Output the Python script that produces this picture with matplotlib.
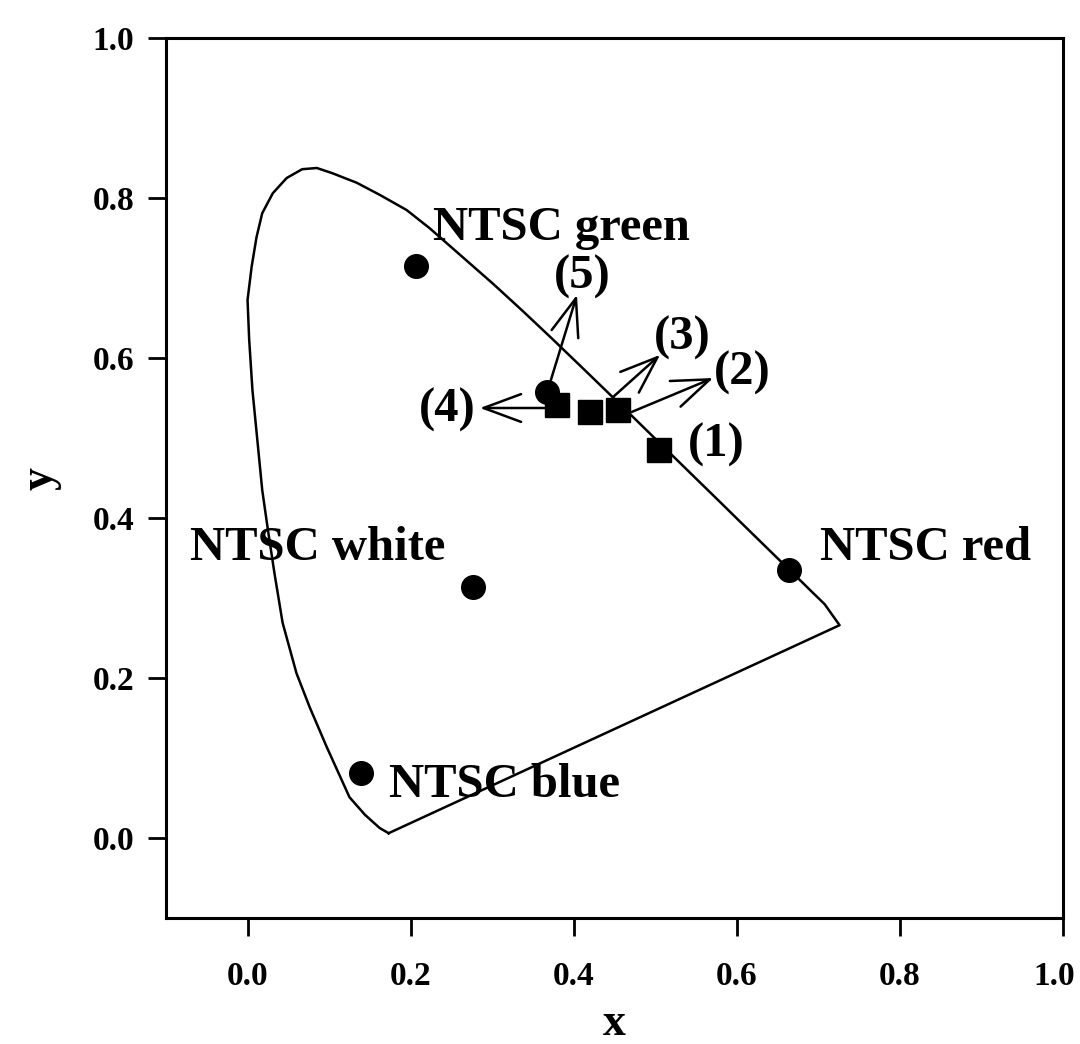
import numpy as np
from matplotlib import pyplot as plt
from matplotlib.transforms import ScaledTranslation

# spectral locus: blue/green part, red part from CIE 1931 (545-630 nm)
locus_x = [0.173, 0.162, 0.144, 0.125, 0.117, 0.097, 0.076, 0.060, 0.043, 0.033,
           0.025, 0.018, 0.012, 0.006, 0.002, 0.000, 0.005, 0.011, 0.018, 0.031,
           0.048, 0.067, 0.085, 0.104, 0.134, 0.162, 0.195, 0.223,
           0.2658, 0.3016, 0.3373, 0.3731, 0.4087, 0.4441, 0.4788, 0.5125, 0.5448, 0.5752,
           0.6029, 0.6270, 0.6482, 0.6658, 0.6801, 0.6915, 0.7006, 0.7079, 0.726]
locus_y = [0.006, 0.0125, 0.029, 0.051, 0.069, 0.114, 0.164, 0.206, 0.269, 0.331,
           0.385, 0.435, 0.4975, 0.560, 0.623, 0.6725, 0.714, 0.751, 0.781, 0.806,
           0.825, 0.836, 0.8375, 0.831, 0.819, 0.804, 0.785, 0.7625,
           0.7243, 0.6923, 0.6589, 0.6245, 0.5896, 0.5547, 0.5202, 0.4866, 0.4544, 0.4242,
           0.3965, 0.3725, 0.3514, 0.3340, 0.3197, 0.3083, 0.2993, 0.2920, 0.266]

# NTSC primaries and white point
ntsc_names = ['NTSC green', 'NTSC red', 'NTSC blue', 'NTSC white']
ntsc_x = [0.207, 0.664, 0.139, 0.277]
ntsc_y = [0.715, 0.335, 0.081, 0.314]

# samples (1)-(4) as squares, (5) as circle
sample_labels = ['(1)', '(2)', '(3)', '(4)', '(5)']
sample_x = [0.504, 0.454, 0.420, 0.380, 0.367]
sample_y = [0.485, 0.535, 0.5325, 0.541, 0.5575]

font = 'Liberation Serif'
plt.rcParams['font.family'] = font
plt.rcParams['font.weight'] = 'bold'

fig = plt.figure(figsize=(10.8, 10.44), dpi=100)
ax = fig.add_axes([166 / 1080, 1 - 918 / 1044, 897 / 1080, 880 / 1044])

# spectral locus, closed by the purple line
ax.plot(locus_x + locus_x[:1], locus_y + locus_y[:1], color='black', lw=1.8,
        solid_joinstyle='round')

ax.plot(ntsc_x, ntsc_y, 'o', color='black', ms=17)
ax.plot(sample_x[:4], sample_y[:4], 's', color='black', ms=17)
ax.plot(sample_x[4:], sample_y[4:], 'o', color='black', ms=17)

# NTSC labels
txt = dict(fontsize=35, fontweight='bold', ha='center', va='center')
ax.text(0.385, 0.762, ntsc_names[0], **txt)
ax.text(0.831, 0.362, ntsc_names[1], **txt)
ax.text(0.315, 0.066, ntsc_names[2], **txt)
ax.text(0.086, 0.362, ntsc_names[3], **txt)

# sample labels and arrows
label_pos = [(0.575, 0.491), (0.607, 0.581), (0.533, 0.625), (0.245, 0.535), (0.411, 0.701)]
arrow_start = [None, (0.471, 0.5325), (0.448, 0.551), (0.371, 0.5375), (0.372, 0.5725)]
arrow_end = [None, (0.571, 0.575), (0.506, 0.604), (0.285, 0.5375), (0.404, 0.679)]
for lab, pos, a0, a1 in zip(sample_labels, label_pos, arrow_start, arrow_end):
    ax.text(pos[0], pos[1], lab, **txt)
    if a0 is not None:
        ax.annotate('', xy=a1, xytext=a0,
                    arrowprops=dict(arrowstyle='->,head_length=1.35,head_width=0.5',
                                    color='black', lw=1.8, shrinkA=0, shrinkB=0,
                                    mutation_scale=20))

ax.set_xlim(-0.1, 1.0)
ax.set_ylim(-0.1, 1.0)
ax.set_xticks([0.0, 0.2, 0.4, 0.6, 0.8, 1.0])
ax.set_yticks([0.0, 0.2, 0.4, 0.6, 0.8, 1.0])
ax.set_xticklabels(['0.0', '0.2', '0.4', '0.6', '0.8', '1.0'])
ax.set_yticklabels(['0.0', '0.2', '0.4', '0.6', '0.8', '1.0'])
ax.tick_params(axis='both', direction='out', length=13, width=2, labelsize=24)
ax.tick_params(axis='x', pad=18)
ax.tick_params(axis='y', pad=10)
for lbl in ax.get_xticklabels() + ax.get_yticklabels():
    lbl.set_fontweight('bold')
# keep the last x tick label inside the figure
last = ax.get_xticklabels()[-1]
last.set_transform(last.get_transform() + ScaledTranslation(-6 / 72, 0, fig.dpi_scale_trans))
for sp in ax.spines.values():
    sp.set_linewidth(2.2)

ax.set_xlabel('x', fontsize=33, fontweight='bold', labelpad=8)
ax.set_ylabel('y', fontsize=33, fontweight='bold', labelpad=22)

fig.savefig('out.png', dpi=100)
